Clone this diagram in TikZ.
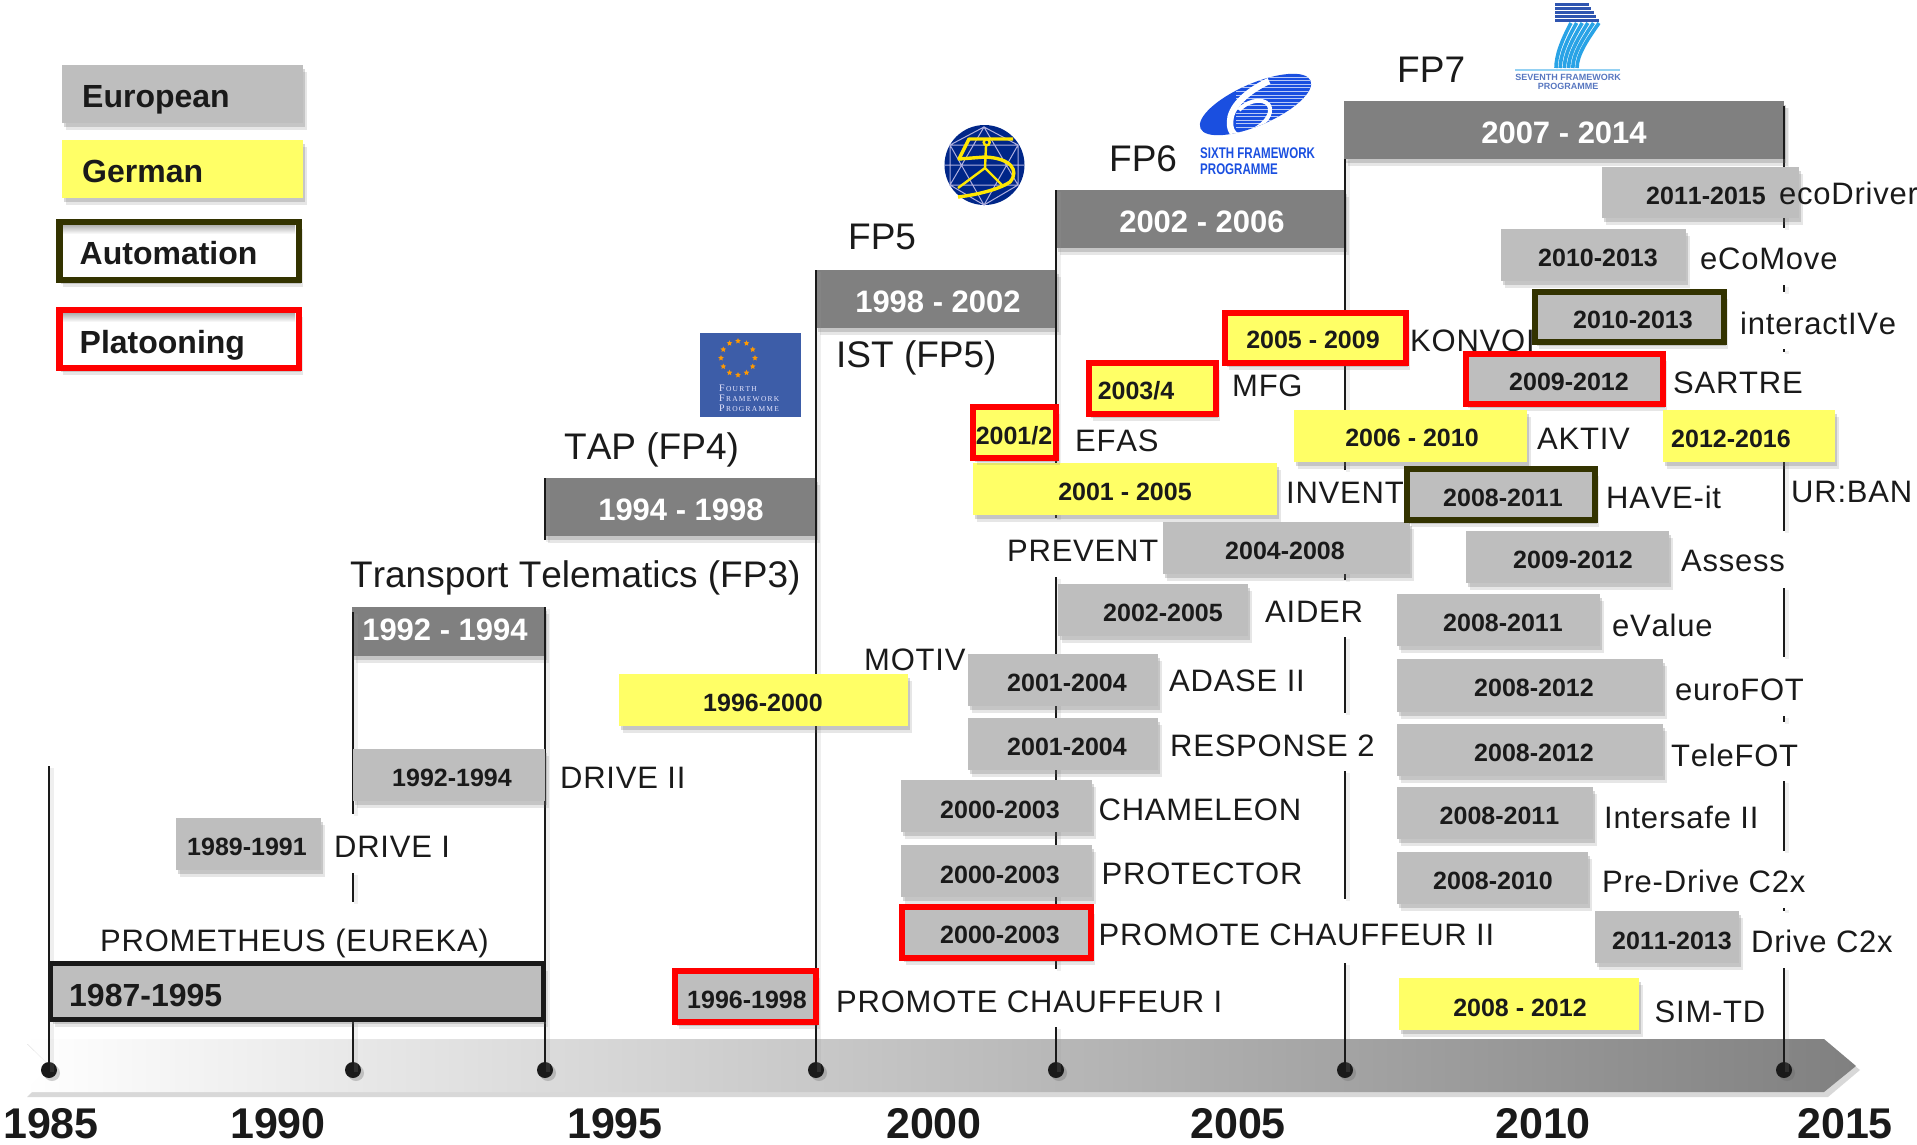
\documentclass[tikz,border=0pt]{standalone}
\usepackage{fontspec}
\setmainfont[Kerning=Off]{Liberation Sans}
\newfontfamily\serifcaps{Liberation Serif}
\usetikzlibrary{shadows,shapes.geometric}
\definecolor{lgray}{HTML}{BEBEBE}
\definecolor{dgray}{HTML}{808080}
\definecolor{yell}{HTML}{FFFF66}
\definecolor{olive}{HTML}{333300}
\definecolor{ink}{HTML}{1A1A1A}
\definecolor{eublue}{HTML}{3D5DA8}
\definecolor{fpsix}{HTML}{1A4FE0}
\definecolor{fpsev}{HTML}{2F55B0}
\definecolor{fpleg}{HTML}{29A3E6}
\tikzset{
  soft/.style={drop shadow={shadow xshift=4pt,shadow yshift=-7pt,opacity=.16,fill=black!60},
               drop shadow={shadow xshift=2pt,shadow yshift=-4pt,opacity=.26,fill=black!60}},
  plain/.style={rectangle,inner sep=0pt,outer sep=0pt,soft},
  gbox/.style={plain,fill=lgray},
  ybox/.style={plain,fill=yell},
  dbar/.style={plain,fill=dgray},
  redg/.style={plain,fill=lgray,draw=red,line width=6pt},
  redy/.style={plain,fill=yell,draw=red,line width=6pt},
  oliveg/.style={plain,fill=lgray,draw=olive,line width=6pt},
  whiteo/.style={plain,fill=white,draw=olive,line width=6.5pt},
  whiter/.style={plain,fill=white,draw=red,line width=6.5pt},
  dtxt/.style={anchor=base,inner sep=0pt,text=ink,font=\fontsize{25}{30}\bfseries\selectfont},
  bartxt/.style={anchor=base,inner sep=0pt,text=white,font=\fontsize{31}{36}\bfseries\selectfont},
  lab/.style={anchor=base west,inner sep=0pt,text=ink,font=\fontsize{31}{36}\selectfont\addfontfeature{LetterSpace=2.5}},
  fplab/.style={anchor=base west,inner sep=0pt,text=ink,font=\fontsize{37}{42}\selectfont},
  legtxt/.style={anchor=base west,inner sep=0pt,text=ink,font=\fontsize{32}{36}\bfseries\selectfont},
  yeartxt/.style={anchor=base,inner sep=0pt,text=ink,font=\fontsize{43}{46}\bfseries\selectfont},
  dot/.style={circle,fill=ink,inner sep=0pt,minimum size=16pt,outer sep=0pt,
              drop shadow={shadow xshift=3pt,shadow yshift=-3pt,opacity=.3,fill=black!60}},
  vline/.style={draw=ink,line width=2.6pt},
  vshade/.style={draw=black!40,line width=4pt,opacity=.16},
  logotxt/.style={inner sep=0pt,text=fpsix,font=\fontsize{15.4}{18}\bfseries\selectfont},
  sevtxt/.style={inner sep=0pt,text=fpsev!80,font=\fontsize{9}{10}\bfseries\selectfont},
  fourtxt/.style={anchor=base west,inner sep=0pt,text=black!5!blue!10!white,font=\serifcaps\fontsize{10}{11}\selectfont},
}
\newcommand{\bx}[9]{%
  \pgfmathsetmacro\bxw{(#5)-(#3)}\pgfmathsetmacro\bxh{(#6)-(#4)}%
  \pgfmathsetmacro\bxcx{((#3)+(#5))/2}\pgfmathsetmacro\bxcy{((#4)+(#6))/2}%
  \node[#2,minimum width=\bxw pt,minimum height=\bxh pt] (#1) at (\bxcx,\bxcy) {};
  \node[dtxt] (#1t) at (#7,{#8+9}) {#9};}
\newcommand{\ibx}[9]{\bx{#1}{#2}{#3+3}{#4+3}{#5-3}{#6-3}{#7}{#8}{#9}}
\newcommand{\fpbar}[8]{%
  \pgfmathsetmacro\bxw{(#4)-(#2)}\pgfmathsetmacro\bxh{(#5)-(#3)}%
  \pgfmathsetmacro\bxcx{((#2)+(#4))/2}\pgfmathsetmacro\bxcy{((#3)+(#5))/2}%
  \node[dbar,minimum width=\bxw pt,minimum height=\bxh pt] (#1) at (\bxcx,\bxcy) {};
  \node[bartxt] (#1t) at (#6,{#7+11}) {#8};}
\newcommand{\lbl}[4]{\node[lab] (#1) at (#2,{#3+11}) {#4};}
\newcommand{\fpl}[4]{\node[fplab] (#1) at (#2,{#3+13}) {#4};}
\newcommand{\vl}[3]{\draw[vshade] ({#1+3},{#2+2}) -- ({#1+3},{#3+2}); \draw[vline] (#1,#2) -- (#1,#3);}
\begin{document}
\begin{tikzpicture}[x=1pt,y=-1pt]
\useasboundingbox (0,0) rectangle (1917,1144);
% timeline band
\fill[black!30,opacity=.5] (27,1044) -- (1828,1044) -- (1860,1070) -- (1828,1097) -- (27,1097) -- (54,1070) -- cycle;
\shade[left color=white,right color=dgray,shading angle=90] (23,1039) -- (1824,1039) -- (1856,1066) -- (1824,1092) -- (23,1092) -- (50,1066) -- cycle;
% dots
\node[dot] (d85) at (49,1070) {};
\node[dot] (d92) at (353,1070) {};
\node[dot] (d94) at (545,1070) {};
\node[dot] (d98) at (816,1070) {};
\node[dot] (d02) at (1056,1070) {};
\node[dot] (d07) at (1345,1070) {};
\node[dot] (d14) at (1784,1070) {};
% framework bars (under their left rules)
\fpbar{b3}{352}{607}{545}{656}{445}{629}{1992 - 1994}
\fpbar{b4}{544}{478}{816}{536}{681}{509}{1994 - 1998}
\fpbar{b5}{816}{270}{1057}{328}{938}{301}{1998 - 2002}
\fpbar{b6}{1056}{190}{1345}{248}{1202}{221}{2002 - 2006}
% vertical rules
\vl{49}{766}{1070}
\vl{353}{612}{814}
\vl{353}{873}{902}
\vl{353}{1022}{1070}
\vl{545}{478}{540}
\vl{545}{607}{1070}
\vl{816}{270}{1070}
\vl{1056}{190}{518}
\vl{1056}{577}{969}
\vl{1056}{1027}{1070}
\vl{1345}{159}{470}
\vl{1345}{523}{580}
\vl{1345}{637}{713}
\vl{1345}{771}{899}
\vl{1345}{963}{1070}
\vl{1784}{106}{228}
\vl{1784}{285}{292}
\vl{1784}{349}{352}
\vl{1784}{410}{531}
\vl{1784}{588}{657}
\vl{1784}{716}{722}
\vl{1784}{781}{851}
\vl{1784}{908}{911}
\vl{1784}{968}{1070}
\fpbar{b7}{1344}{101}{1784}{159}{1564}{132}{2007 - 2014}
\draw[vline] (1784,106) -- (1784,159);
% legend
\node[gbox,minimum width=241pt,minimum height=58pt] (legeu) at (182.5,94) {};
\node[ybox,minimum width=241pt,minimum height=58pt] (legde) at (182.5,169) {};
\node[whiteo,minimum width=239.5pt,minimum height=58pt] (legau) at (179,250.75) {};
\node[whiter,minimum width=239.5pt,minimum height=58pt] (legpl) at (179,339) {};
\shade[top color=black!30,bottom color=white] (63,225.2) rectangle (295,234);
\shade[top color=black!30,bottom color=white] (63,313.5) rectangle (295,322);
\node[legtxt] (legeut) at (82,107.5) {European};
\node[legtxt] (legdet) at (82,182.5) {German};
\node[legtxt] (legaut) at (79.5,264.5) {Automation};
\node[legtxt] (legplt) at (79.5,353.5) {Platooning};
% framework labels
\fpl{fp3}{350}{574.5}{Transport Telematics (FP3)}
\fpl{fp4}{564}{446}{TAP (FP4)}
\fpl{fp5}{848}{236.5}{FP5}
\fpl{ist}{836}{354}{IST (FP5)}
\fpl{fp6}{1109}{158.5}{FP6}
\fpl{fp7}{1397}{69.5}{FP7}
% labels
\lbl{lpro}{100}{940}{PROMETHEUS (EUREKA)}
\lbl{ldr1}{334}{846}{DRIVE I}
\lbl{ldr2}{560}{777}{DRIVE II}
\lbl{lmot}{864}{659}{MOTIV}
\lbl{lpc1}{836}{1001}{PROMOTE CHAUFFEUR I}
\lbl{lpc2}{1098.5}{934.5}{PROMOTE CHAUFFEUR II}
\lbl{lprot}{1101.5}{873}{PROTECTOR}
\lbl{lcham}{1098.5}{809}{CHAMELEON}
\lbl{lresp}{1170}{745}{RESPONSE 2}
\lbl{ladas}{1169}{680}{ADASE II}
\lbl{laid}{1265}{611}{AIDER}
\lbl{lprev}{1007}{550}{PREVENT}
\lbl{linv}{1286}{492}{INVENT}
\lbl{lefas}{1075}{440}{EFAS}
\lbl{lmfg}{1232}{385}{MFG}
\lbl{lkon}{1410}{340}{KONVOI}
\lbl{lakt}{1537}{438}{AKTIV}
\lbl{lhave}{1606}{497}{HAVE-it}
\lbl{lass}{1681}{560}{Assess}
\lbl{lsart}{1673}{382}{SARTRE}
\lbl{lint}{1740}{323}{interactIVe}
\lbl{leco}{1700}{258}{eCoMove}
\lbl{lurb}{1791}{491}{UR:BAN}
\lbl{leval}{1612}{625}{eValue}
\lbl{lfot}{1675}{689}{euroFOT}
\lbl{ltel}{1671}{755}{TeleFOT}
\lbl{lsafe}{1604}{817}{Intersafe II}
\lbl{lpre}{1602}{881}{Pre-Drive C2x}
\lbl{lc2x}{1751}{941.5}{Drive C2x}
\lbl{lsim}{1654.5}{1011}{SIM-TD}
% early boxes
\node[plain,fill=lgray,draw=ink,line width=5pt,minimum width=493pt,minimum height=56pt] (pro) at (297,991.5) {};
\node[legtxt,text=ink] (prot) at (69,1006.5) {1987-1995};
\bx{d1}{gbox}{176}{818}{321}{870}{247}{846}{1989-1991}
\bx{d2}{gbox}{353}{749}{545}{801}{452}{777}{1992-1994}
\bx{mot}{ybox}{619}{674}{908}{726}{763}{702}{1996-2000}
\ibx{pc1}{redg}{672}{968}{819}{1025}{747}{999}{1996-1998}
% FP5/FP6 boxes
\ibx{pc2}{redg}{899}{904}{1094}{960.5}{1000}{934.5}{2000-2003}
\bx{protb}{gbox}{901}{845}{1092}{897}{1000}{874}{2000-2003}
\bx{cham}{gbox}{901}{780}{1092}{832}{1000}{809}{2000-2003}
\bx{resp}{gbox}{968}{718}{1158}{770}{1067}{746}{2001-2004}
\bx{adas}{gbox}{968}{654}{1158}{706}{1067}{682}{2001-2004}
\bx{aid}{gbox}{1058}{584}{1248}{636}{1163}{612}{2002-2005}
\bx{prev}{gbox}{1163}{522}{1410}{574}{1285}{550}{2004-2008}
\bx{inv}{ybox}{973}{463}{1277}{515}{1125}{491}{2001 - 2005}
\ibx{efas}{redy}{970}{404}{1059}{461}{1014}{435}{2001/2}
\ibx{mfg}{redy}{1086}{360}{1219}{417}{1136}{390}{2003/4}
\ibx{kon}{redy}{1222}{310}{1409}{366}{1313}{339}{2005 - 2009}
% FP7 boxes
\bx{drv}{gbox}{1602}{167}{1799}{218}{1706}{195}{2011-2015}
\lbl{ldrv}{1779}{193}{ecoDriver}
\bx{eco}{gbox}{1501}{229}{1686}{281}{1598}{257}{2010-2013}
\ibx{int}{oliveg}{1532}{289}{1727}{345}{1633}{319}{2010-2013}
\ibx{sart}{redg}{1463}{351}{1666}{407}{1569}{381}{2009-2012}
\bx{akt}{ybox}{1294}{410}{1527}{462}{1412}{437}{2006 - 2010}
\bx{urb}{ybox}{1663}{410}{1835}{462}{1731}{438}{2012-2016}
\ibx{have}{oliveg}{1404}{466}{1598}{523}{1503}{497}{2008-2011}
\bx{ass}{gbox}{1466}{531}{1669}{583}{1573}{559}{2009-2012}
\bx{eval}{gbox}{1397}{594}{1600}{646}{1503}{622}{2008-2011}
\bx{fot}{gbox}{1397}{659}{1663}{712}{1534}{687}{2008-2012}
\bx{tel}{gbox}{1397}{724}{1663}{776}{1534}{752}{2008-2012}
\bx{safe}{gbox}{1397}{787}{1593}{839}{1499.5}{815}{2008-2011}
\bx{pre}{gbox}{1397}{852}{1588}{904}{1493}{880}{2008-2010}
\bx{c2x}{gbox}{1595}{911}{1739}{963}{1672}{940}{2011-2013}
\bx{sim}{ybox}{1399}{978}{1639}{1030}{1520}{1007}{2008 - 2012}
% years
\node[yeartxt] (y85) at (51,1138) {1985};
\node[yeartxt] (y90) at (278,1138) {1990};
\node[yeartxt] (y95) at (615,1138) {1995};
\node[yeartxt] (y00) at (934,1138) {2000};
\node[yeartxt] (y05) at (1238,1138) {2005};
\node[yeartxt] (y10) at (1543,1138) {2010};
\node[yeartxt] (y15) at (1845,1138) {2015};
% FP4 logo
\node[rectangle,fill=eublue,inner sep=0pt,minimum width=101pt,minimum height=84pt] (logo4) at (750.5,375) {};
\foreach \i in {1,...,12}
  \node[star,star points=5,star point ratio=2.2,fill=orange!80!yellow,inner sep=0pt,minimum size=6pt] (st\i) at ({738+17*cos(30*\i)},{358+17*sin(30*\i)}) {};
\node[fourtxt] (f4a) at (719,391) {F{\fontsize{7.5}{9}\selectfont\,O\,U\,R\,T\,H}};
\node[fourtxt] (f4b) at (719,401) {F{\fontsize{7.5}{9}\selectfont\,R\,A\,M\,E\,W\,O\,R\,K}};
\node[fourtxt] (f4c) at (719,411) {P{\fontsize{7.5}{9}\selectfont\,R\,O\,G\,R\,A\,M\,M\,E}};
% FP5 logo
\fill[blue!45!black!85!cyan] (984.5,165) circle [radius=40];
\draw[blue!25!white!75!gray,line width=1pt] (945,165) -- (1024,165)
  (984,127) -- (950,185) -- (1018,185) -- cycle
  (984,205) -- (950,145) -- (1018,145) -- cycle
  (984,127) -- (1018,145) -- (1018,185) -- (984,205) -- (950,185) -- (950,145) -- cycle;
\draw[yellow!90!orange,line width=3.4pt,line join=round]
  (1013,139) -- (969,139) -- (959,159) -- (985,157)
  .. controls (1010,158) and (1020,170) .. (1010,182)
  .. controls (998,190) and (975,195) .. (958,197);
\draw[yellow!90!orange,line width=2.4pt]
  (986.7,142.3) circle [radius=3] (986,146) -- (985,168) -- (958,188) (985,168) -- (1002,185);
% FP6 logo
\begin{scope}
  \clip[rotate around={23.5:(1255.5,104.5)}] (1255.5,104.5) ellipse [x radius=60,y radius=21];
  \fill[fpsix] (1190,70) rectangle (1320,150);
  \foreach \yy in {77,80.6,...,131} \draw[fpsix!30!white,line width=.9pt] (1236,\yy) -- (1320,\yy);
  \draw[white,line width=6.5pt] (1269,81) .. controls (1245,92) and (1230,108) .. (1230,122) .. controls (1230,128) and (1231,131) .. (1234,134);
  \draw[white,line width=4pt] (1234,134) .. controls (1252,136) and (1272,120) .. (1270,108) .. controls (1268,98) and (1250,98) .. (1239,110);
\end{scope}
\node[logotxt,anchor=west] (six1) at (1200,153) {\scalebox{.75}[1]{SIXTH FRAMEWORK}};
\node[logotxt,anchor=west] (six2) at (1200,169) {\scalebox{.75}[1]{PROGRAMME}};
% FP7 logo
\foreach \yy in {4.5,8.5,...,21}
  \draw[fpsev,line width=3.2pt] (1555,\yy) -- ({1588+0.6*(\yy-3)},\yy);
\foreach \i in {0,1,2,3,4,5}
  \draw[fpleg,line width=3.6pt] ({1571+\i*5.6},23) .. controls ({1562+\i*5},40) and ({1556+\i*4.2},55) .. ({1556+\i*4.2},68);
\draw[fpleg!50!white,line width=2pt] (1515,69.5) -- (1620,69.5);
\node[sevtxt] (sev1) at (1568,77) {SEVENTH FRAMEWORK};
\node[sevtxt] (sev2) at (1568,86) {PROGRAMME};
\end{tikzpicture}
\end{document}
